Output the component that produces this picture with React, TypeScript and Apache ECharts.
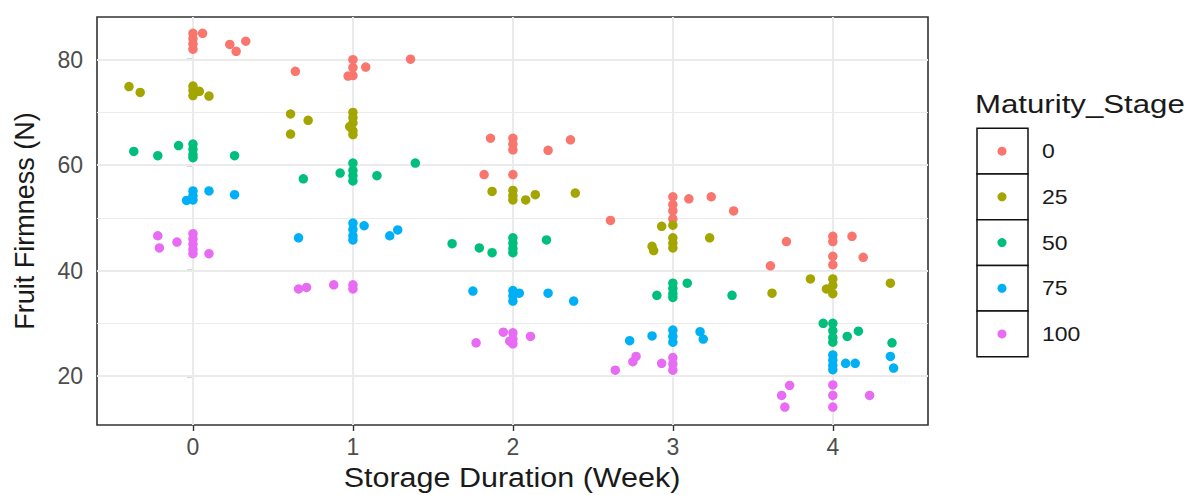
import React, { useEffect, useRef } from "react";
import * as echarts from "echarts";

const weeks = [0, 1, 2, 3, 4];
const firmnessTicks = [20, 40, 60, 80];
const majorGrid = [20, 40, 60, 80];
const minorGrid = [30, 50, 70];
const stages = ["0", "25", "50", "75", "100"];
const stageColors = ["#F8766D", "#A3A500", "#00BF7D", "#00B0F6", "#E76BF3"];

// [jittered week, firmness (N)]
const stage0: number[][] = [
  [0, 85.0], [0, 84.0], [0, 83.0], [0, 82.0], [0.06, 85.0], [0.23, 82.9], [0.27, 81.6], [0.33, 83.5],
  [0.64, 77.8], [1, 80.0], [1, 78.5], [1, 77.0], [0.97, 76.9], [1.08, 78.6], [1.36, 80.1],
  [1.86, 65.1], [2, 65.1], [2, 64.0], [2, 62.9], [2.22, 62.8], [2.36, 64.8], [1.82, 58.2], [2, 58.2],
  [2.61, 49.5], [3, 54.0], [3, 52.5], [3, 51.3], [3, 49.8], [3.1, 53.6], [3.24, 54.0], [3.38, 51.3],
  [3.61, 40.9], [3.71, 45.5], [4, 46.5], [4, 45.5], [4, 42.7], [4, 41.1], [4.12, 46.5], [4.19, 42.5],
];
const stage25: number[][] = [
  [-0.4, 74.9], [-0.33, 73.8], [0, 75.0], [0, 74.2], [0, 73.2], [0.04, 74.0], [0.1, 73.1],
  [0.61, 69.7], [0.72, 68.5], [0.61, 65.9], [1, 70.0], [1, 69.0], [1, 68.0], [0.98, 67.3], [1, 66.5], [1, 65.8],
  [1.87, 55.0], [2, 55.2], [2, 54.2], [2, 53.4], [2.08, 53.4], [2.14, 54.4], [2.39, 54.7],
  [2.87, 44.6], [2.88, 43.8], [2.93, 48.4], [3, 48.6], [3, 46.2], [3, 45.2], [3, 44.3], [3.23, 46.2],
  [3.62, 35.7], [3.86, 38.4], [4, 38.4], [4, 37.2], [3.96, 36.5], [4, 35.6], [4.36, 37.6],
];
const stage50: number[][] = [
  [-0.37, 62.6], [-0.22, 61.8], [-0.09, 63.7], [0, 64.0], [0, 63.0], [0, 62.0], [0, 61.4], [0.26, 61.8],
  [0.69, 57.4], [0.92, 58.5], [1, 60.4], [1, 59.0], [1, 58.0], [1, 57.0], [1.15, 58.0], [1.39, 60.4],
  [1.62, 45.1], [1.79, 44.3], [1.87, 43.4], [2, 46.2], [2, 45.2], [2, 44.2], [2, 43.4], [2.21, 45.8],
  [2.9, 35.3], [3, 37.6], [3, 36.6], [3, 35.6], [3, 34.9], [3.09, 37.6], [3.37, 35.3],
  [3.94, 30.0], [4, 30.0], [4, 28.6], [4, 27.3], [4, 26.4], [4.09, 27.5], [4.16, 28.5], [4.37, 26.3],
];
const stage75: number[][] = [
  [-0.04, 53.3], [0, 55.1], [0, 54.2], [0, 53.4], [0.1, 55.1], [0.26, 54.4],
  [0.66, 46.2], [1, 49.0], [1, 47.8], [1, 46.6], [1, 45.8], [1.07, 48.5], [1.23, 46.6], [1.28, 47.7],
  [1.75, 36.1], [2, 36.2], [2, 35.2], [2, 34.2], [2.04, 35.7], [2.22, 35.7], [2.38, 34.2],
  [2.73, 26.7], [2.87, 27.6], [3, 28.7], [3, 27.5], [3, 26.4], [3.17, 28.4], [3.19, 27.0],
  [4, 24.0], [4, 23.0], [4, 22.0], [4, 21.2], [4.08, 22.4], [4.14, 22.4], [4.36, 23.7], [4.38, 21.5],
];
const stage100: number[][] = [
  [-0.22, 46.6], [-0.21, 44.3], [-0.1, 45.4], [0, 47.0], [0, 46.0], [0, 45.0], [0, 44.0], [0, 43.2], [0.1, 43.2],
  [0.66, 36.5], [0.71, 36.8], [0.88, 37.3], [1, 37.3], [1, 36.5],
  [1.77, 26.3], [1.94, 28.3], [2, 28.2], [2, 27.0], [2, 26.1], [1.98, 26.6], [2.11, 27.5],
  [2.64, 21.1], [2.75, 22.7], [2.77, 23.7], [2.93, 22.4], [3, 23.5], [3, 22.3], [3, 21.1],
  [3.68, 16.3], [3.7, 14.1], [3.73, 18.2], [4, 18.3], [4, 16.3], [4, 14.1], [4.23, 16.3],
];
const stageData = [stage0, stage25, stage50, stage75, stage100];

const FONT = "Liberation Sans, Arial, sans-serif";

export default function App() {
  const ref = useRef<HTMLDivElement>(null);
  useEffect(() => {
    if (!ref.current) return;
    const chart = echarts.init(ref.current, undefined, { renderer: "svg" });

    const rowTop = 128.3;
    const rowH = 45.7;
    const legendEls: any[] = [
      {
        type: "text",
        x: 975,
        y: 104,
        scaleX: 1.2,
        style: { text: "Maturity_Stage", fontSize: 26, fontFamily: FONT, fill: "#1a1a1a", align: "left", verticalAlign: "middle" },
      },
    ];
    stages.forEach((s, i) => {
      const cy = rowTop + rowH * (i + 0.5);
      legendEls.push({
        type: "rect",
        shape: { x: 977, y: rowTop + rowH * i, width: 51, height: rowH },
        style: { fill: "#fff", stroke: "#111", lineWidth: 1.5 },
      });
      legendEls.push({
        type: "circle",
        shape: { cx: 1002, cy, r: 4.5 },
        style: { fill: stageColors[i] },
      });
      legendEls.push({
        type: "text",
        x: 1042,
        y: cy,
        scaleX: 1.15,
        style: { text: s, fontSize: 20, fontFamily: FONT, fill: "#1a1a1a", align: "left", verticalAlign: "middle" },
      });
    });
    legendEls.push({
      type: "text",
      x: 512,
      y: 478,
      scaleX: 1.13,
      style: { text: "Storage Duration (Week)", fontSize: 27, fontFamily: FONT, fill: "#1a1a1a", align: "center", verticalAlign: "middle" },
    });

    const gridLineSeries: any = {
      type: "scatter",
      data: [],
      silent: true,
      markLine: {
        z: 1,
        silent: true,
        symbol: "none",
        label: { show: false },
        animation: false,
        data: [
          ...minorGrid.map((v) => ({ yAxis: v, lineStyle: { color: "#EBEBEB", width: 1, type: "solid" } })),
          ...majorGrid.map((v) => ({ yAxis: v, lineStyle: { color: "#EBEBEB", width: 2, type: "solid" } })),
          ...weeks.map((v) => ({ xAxis: v, lineStyle: { color: "#EBEBEB", width: 2, type: "solid" } })),
        ],
      },
    };

    chart.setOption({
      animation: false,
      backgroundColor: "#fff",
      textStyle: { fontFamily: FONT },
      grid: {
        left: 97,
        right: 260,
        top: 17,
        bottom: 70,
        show: true,
        backgroundColor: "#fff",
        borderColor: "#333",
        borderWidth: 1.6,
      },
      xAxis: {
        type: "value",
        min: -0.6,
        max: 4.595,
        axisLine: { show: false },
        splitLine: { show: false },
        axisTick: { show: true, customValues: weeks, length: 6, lineStyle: { color: "#333", width: 1.4 } },
        axisLabel: { customValues: weeks, fontSize: 23, color: "#4D4D4D", margin: 10, fontFamily: FONT },
      },
      yAxis: {
        type: "value",
        min: 10.7,
        max: 88.1,
        name: "Fruit Firmness (N)",
        nameLocation: "middle",
        nameGap: 59,
        nameRotate: 90,
        nameTextStyle: { fontSize: 27, color: "#1a1a1a", fontFamily: FONT },
        axisLine: { show: false },
        splitLine: { show: false },
        axisTick: { show: true, customValues: firmnessTicks, length: 6, lineStyle: { color: "#333", width: 1.4 } },
        axisLabel: { customValues: firmnessTicks, fontSize: 23, color: "#4D4D4D", margin: 14, fontFamily: FONT },
      },
      graphic: legendEls,
      series: [
        gridLineSeries,
        ...stageData.map((d, i) => ({
          name: stages[i],
          type: "scatter",
          z: 3,
          symbol: "circle",
          symbolSize: 9.5,
          itemStyle: { color: stageColors[i], opacity: 1 },
          data: d,
        })),
      ],
    });
    return () => chart.dispose();
  }, []);
  return <div ref={ref} style={{ position: "absolute", left: 0, top: 0, width: 1188, height: 495 }} />;
}
